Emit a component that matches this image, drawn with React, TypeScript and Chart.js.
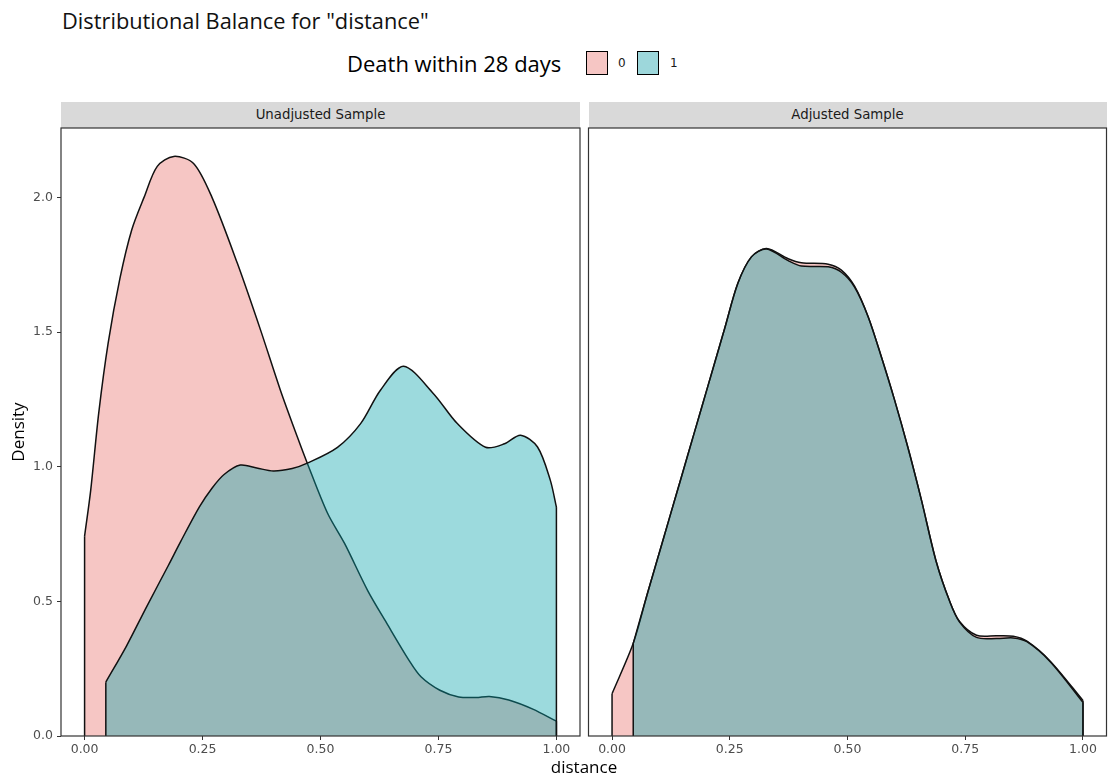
import React, { useEffect, useRef } from "react";
import { Chart, registerables } from "chart.js";

Chart.register(...registerables);

// ---------- data ----------
const GROUP_LABELS = ["0", "1"];
const FACETS = ["Unadjusted Sample", "Adjusted Sample"];
const LEGEND_TITLE = "Death within 28 days";
const TITLE = 'Distributional Balance for "distance"';
const X_TITLE = "distance";
const Y_TITLE = "Density";
const X_TICKS = [0, 0.25, 0.5, 0.75, 1];
const Y_TICKS = [0, 0.5, 1, 1.5, 2];

// Unadjusted sample, group 0
const unadjX0 = [0, 0.013, 0.03, 0.05, 0.075, 0.1, 0.126, 0.154, 0.189, 0.231, 0.27, 0.324, 0.373, 0.415, 0.451, 0.472, 0.515, 0.551, 0.6, 0.64, 0.688, 0.713, 0.753, 0.793, 0.83, 0.858, 0.899, 0.95, 1.0];
const unadjY0 = [0.742, 0.913, 1.2, 1.46, 1.7, 1.88, 2.0, 2.115, 2.152, 2.126, 2.0, 1.754, 1.507, 1.284, 1.11, 1.013, 0.827, 0.715, 0.54, 0.42, 0.28, 0.22, 0.17, 0.145, 0.143, 0.147, 0.134, 0.1, 0.055];
// Unadjusted sample, group 1
const unadjX1 = [0.045, 0.089, 0.13, 0.178, 0.203, 0.243, 0.27, 0.295, 0.33, 0.365, 0.4, 0.44, 0.472, 0.536, 0.585, 0.627, 0.676, 0.739, 0.79, 0.85, 0.89, 0.924, 0.96, 0.987, 1.0];
const unadjY1 = [0.2, 0.335, 0.475, 0.635, 0.72, 0.85, 0.92, 0.97, 1.006, 0.995, 0.984, 0.993, 1.013, 1.072, 1.16, 1.284, 1.373, 1.272, 1.16, 1.072, 1.085, 1.117, 1.073, 0.95, 0.85];
// Adjusted sample, group 0
const adjX0 = [0, 0.045, 0.075, 0.11, 0.133, 0.161, 0.19, 0.218, 0.239, 0.267, 0.296, 0.328, 0.374, 0.402, 0.459, 0.487, 0.515, 0.544, 0.572, 0.6, 0.628, 0.657, 0.688, 0.717, 0.738, 0.774, 0.817, 0.852, 0.881, 0.931, 1.0];
const adjY0 = [0.157, 0.344, 0.528, 0.738, 0.876, 1.044, 1.218, 1.386, 1.512, 1.68, 1.779, 1.81, 1.772, 1.757, 1.752, 1.73, 1.67, 1.556, 1.407, 1.247, 1.073, 0.876, 0.65, 0.5, 0.425, 0.374, 0.372, 0.37, 0.352, 0.277, 0.132];
// Adjusted sample, group 1
const adjX1 = [0.045, 0.075, 0.11, 0.133, 0.161, 0.19, 0.218, 0.239, 0.267, 0.296, 0.328, 0.374, 0.402, 0.459, 0.487, 0.515, 0.544, 0.572, 0.6, 0.628, 0.657, 0.688, 0.717, 0.738, 0.774, 0.817, 0.852, 0.881, 0.931, 1.0];
const adjY1 = [0.344, 0.528, 0.738, 0.876, 1.044, 1.218, 1.386, 1.512, 1.68, 1.779, 1.808, 1.765, 1.745, 1.742, 1.722, 1.667, 1.556, 1.407, 1.247, 1.073, 0.876, 0.65, 0.5, 0.423, 0.366, 0.362, 0.364, 0.35, 0.275, 0.125];

// ---------- styling / layout ----------
const W = 1108;
const H = 778;
const PANEL_TOP = 128;
const PANEL_BOTTOM = 736;
const X_AXIS_H = 22;
const Y_AXIS_W = 61;
const LEFT_PANEL: [number, number] = [61, 580];
const RIGHT_PANEL: [number, number] = [588.5, 1106.5];
const FILL = ["rgba(232,112,107,0.4)", "rgba(8,162,170,0.4)"];
const KEY_FILL = ["#f6c6c4", "#9dd7db"];
const LINE = "#111111";
const TICK_FONT = "'DejaVu Sans', sans-serif";
const TEXT_FONT = "'Open Sans', sans-serif";

const toPoints = (xs: number[], ys: number[]) => xs.map((x, i) => ({ x, y: ys[i] }));

const borderPlugin = {
  id: "panelBorder",
  afterDatasetsDraw(chart: any) {
    const { ctx, chartArea } = chart;
    ctx.save();
    ctx.strokeStyle = "#333333";
    ctx.lineWidth = 1.2;
    ctx.strokeRect(chartArea.left, chartArea.top, chartArea.right - chartArea.left, chartArea.bottom - chartArea.top);
    ctx.restore();
  },
};

function makeConfig(x0: number[], y0: number[], x1: number[], y1: number[], panel: [number, number], showY: boolean): any {
  const curve = (xs: number[], ys: number[], g: number) => ({
    label: GROUP_LABELS[g],
    data: toPoints(xs, ys),
    backgroundColor: FILL[g],
    borderColor: LINE,
    borderWidth: 1.5,
    fill: "origin",
    pointRadius: 0,
    tension: 0.3,
    order: g === 0 ? 3 : 1,
  });
  // vertical outline segments at both ends of each density
  const edge = (xs: number[], ys: number[], g: number, atEnd: boolean) => {
    const i = atEnd ? xs.length - 1 : 0;
    return {
      label: GROUP_LABELS[g] + (atEnd ? "-end" : "-start"),
      data: [
        { x: xs[i], y: 0 },
        { x: xs[i], y: ys[i] },
      ],
      borderColor: LINE,
      borderWidth: 1.5,
      fill: false,
      pointRadius: 0,
      tension: 0,
      order: g === 0 ? 2 : 0,
    };
  };
  return {
    type: "line",
    data: {
      datasets: [
        curve(x0, y0, 0),
        edge(x0, y0, 0, false),
        edge(x0, y0, 0, true),
        curve(x1, y1, 1),
        edge(x1, y1, 1, false),
        edge(x1, y1, 1, true),
      ],
    },
    plugins: [borderPlugin],
    options: {
      responsive: false,
      animation: false,
      events: [],
      layout: {
        padding: {
          left: showY ? panel[0] - Y_AXIS_W : panel[0],
          right: W - panel[1],
          top: PANEL_TOP,
          bottom: H - PANEL_BOTTOM - X_AXIS_H,
        },
      },
      plugins: { legend: { display: false }, tooltip: { enabled: false }, title: { display: false } },
      scales: {
        x: {
          type: "linear",
          min: -0.05,
          max: 1.05,
          afterBuildTicks: (s: any) => {
            s.ticks = X_TICKS.map((v) => ({ value: v }));
          },
          afterFit: (s: any) => {
            s.height = X_AXIS_H;
          },
          ticks: {
            callback: (v: any) => Number(v).toFixed(2),
            font: { family: TICK_FONT, size: 12.5 },
            color: "#4d4d4d",
            padding: 2,
            maxRotation: 0,
            autoSkip: false,
          },
          grid: { drawOnChartArea: false, drawTicks: true, tickLength: 4, color: "#333333", lineWidth: 1 },
          border: { display: false },
        },
        y: {
          type: "linear",
          display: showY,
          min: 0,
          max: 2.2575,
          afterBuildTicks: (s: any) => {
            s.ticks = Y_TICKS.map((v) => ({ value: v }));
          },
          afterFit: (s: any) => {
            s.width = showY ? Y_AXIS_W : 0;
          },
          ticks: {
            callback: (v: any) => Number(v).toFixed(1),
            font: { family: TICK_FONT, size: 12.5 },
            color: "#4d4d4d",
            padding: 4,
            autoSkip: false,
          },
          grid: { drawOnChartArea: false, drawTicks: true, tickLength: 4, color: "#333333", lineWidth: 1 },
          border: { display: false },
          title: {
            display: true,
            text: Y_TITLE,
            color: "#000000",
            font: { family: TEXT_FONT, size: 17 },
            padding: { top: 9, bottom: 0 },
          },
        },
      },
    },
  };
}

function Panel(props: { cfg: any }) {
  const ref = useRef<HTMLCanvasElement | null>(null);
  useEffect(() => {
    if (!ref.current) return;
    const chart = new Chart(ref.current, props.cfg);
    return () => chart.destroy();
  }, []);
  return (
    <canvas
      ref={ref}
      width={W}
      height={H}
      style={{ position: "absolute", left: 0, top: 0, width: W, height: H }}
    />
  );
}

function Strip(props: { panel: [number, number]; text: string }) {
  const [l, r] = props.panel;
  return (
    <div
      style={{
        position: "absolute",
        left: l,
        top: 102,
        width: r - l,
        height: PANEL_TOP - 102,
        background: "#d9d9d9",
        color: "#1a1a1a",
        fontFamily: TICK_FONT,
        fontSize: 13.3,
        lineHeight: `${PANEL_TOP - 102}px`,
        textAlign: "center",
      }}
    >
      {props.text}
    </div>
  );
}

export default function App() {
  const leftCfg = makeConfig(unadjX0, unadjY0, unadjX1, unadjY1, LEFT_PANEL, true);
  const rightCfg = makeConfig(adjX0, adjY0, adjX1, adjY1, RIGHT_PANEL, false);
  const keyStyle = (g: number): React.CSSProperties => ({
    position: "absolute",
    top: 51,
    left: g === 0 ? 586 : 637,
    width: 20,
    height: 22,
    background: KEY_FILL[g],
    border: "1.8px solid #000",
  });
  const keyLabel = (g: number): React.CSSProperties => ({
    position: "absolute",
    top: 55,
    left: g === 0 ? 618 : 670,
    fontFamily: TICK_FONT,
    fontSize: 12,
    lineHeight: "16px",
    color: "#1a1a1a",
  });
  return (
    <div style={{ position: "absolute", left: 0, top: 0, width: W, height: H, background: "#fff", overflow: "hidden" }}>
      <div
        style={{
          position: "absolute",
          left: 62,
          top: 6,
          fontFamily: TEXT_FONT,
          fontSize: 21.8,
          lineHeight: "30px",
          color: "#111",
          whiteSpace: "nowrap",
        }}
      >
        {TITLE}
      </div>
      <div
        style={{
          position: "absolute",
          left: 347,
          top: 48,
          fontFamily: TEXT_FONT,
          fontSize: 22,
          lineHeight: "30px",
          color: "#000",
          whiteSpace: "nowrap",
        }}
      >
        {LEGEND_TITLE}
      </div>
      <div style={keyStyle(0)} />
      <div style={keyLabel(0)}>{GROUP_LABELS[0]}</div>
      <div style={keyStyle(1)} />
      <div style={keyLabel(1)}>{GROUP_LABELS[1]}</div>
      <Strip panel={LEFT_PANEL} text={FACETS[0]} />
      <Strip panel={RIGHT_PANEL} text={FACETS[1]} />
      <Panel cfg={leftCfg} />
      <Panel cfg={rightCfg} />
      <div
        style={{
          position: "absolute",
          left: 484,
          width: 200,
          top: 756,
          textAlign: "center",
          fontFamily: TEXT_FONT,
          fontSize: 17,
          lineHeight: "22px",
          color: "#000",
        }}
      >
        {X_TITLE}
      </div>
    </div>
  );
}
